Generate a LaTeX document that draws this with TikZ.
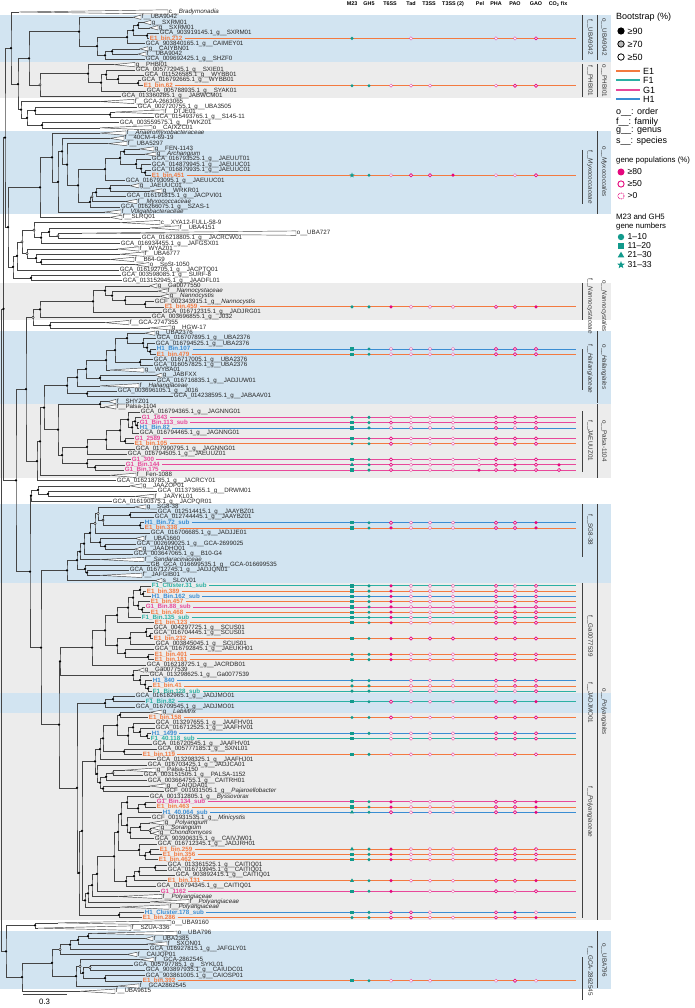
\documentclass[tikz,border=0pt]{standalone}
\usepackage{fontspec}
\setmainfont{Liberation Sans}
\usetikzlibrary{calc,shapes.geometric}
\pgfdeclarelayer{back}\pgfdeclarelayer{bg}
\pgfsetlayers{back,bg,main}
\definecolor{cE}{HTML}{F37A40}
\definecolor{cF}{HTML}{2BB0A4}
\definecolor{cG}{HTML}{E8489A}
\definecolor{cH}{HTML}{3A8DD3}
\definecolor{tealm}{HTML}{129A8C}
\definecolor{pinkm}{HTML}{E5087E}
\definecolor{bandB}{HTML}{D2E4F1}
\definecolor{bandG}{HTML}{ECECEC}
\definecolor{brc}{HTML}{454545}
\tikzset{
 lab/.style={anchor=west, inner sep=0.7pt, font=\fontsize{6.2}{6.2}\selectfont, text=black!85},
 labc/.style={lab, font=\fontsize{6.2}{6.2}\selectfont\bfseries},
 br/.style={draw=brc, line width=0.5pt},
 tri/.style={draw=brc, line width=0.45pt, fill=white},
 bsk/.style={circle, fill=black, inner sep=0, minimum size=2.5pt},
 bsw/.style={circle, draw=black, fill=white, line width=0.35pt, inner sep=0, minimum size=2.5pt},
 bsg/.style={circle, draw=black, fill=gray!60, line width=0.35pt, inner sep=0, minimum size=2.5pt},
 bsn/.style={inner sep=0, minimum size=0pt},
 pkf/.style={circle, fill=pinkm, inner sep=0, minimum size=3.5pt},
 pko/.style={circle, draw=pinkm, fill=white, line width=0.65pt, inner sep=0, minimum size=3.2pt},
 pkd/.style={circle, draw=pinkm!80, fill=white, line width=0.5pt, dash pattern=on 0.6pt off 0.5pt, inner sep=0, minimum size=3.2pt},
 pkn/.style={inner sep=0, minimum size=0pt},
 mkc/.style={circle, fill=tealm, inner sep=0, minimum size=3.4pt},
 mks/.style={rectangle, fill=tealm, inner sep=0, minimum size=3.4pt},
 mkt/.style={regular polygon, regular polygon sides=3, fill=tealm, inner sep=0, minimum size=4.8pt},
 mkr/.style={star, star points=5, star point ratio=2.4, fill=tealm, inner sep=0, minimum size=5.6pt},
 mkn/.style={inner sep=0, minimum size=0pt},
 hdr/.style={font=\fontsize{5.4}{6}\selectfont\bfseries, inner sep=0},
 fam/.style={rotate=-90, font=\fontsize{6.3}{7}\selectfont, text=black!80, inner sep=0},
 bar/.style={draw=black!75, line width=0.9pt},
 leg/.style={anchor=west, inner sep=0, font=\fontsize{9}{10}\selectfont},
 legs/.style={anchor=west, inner sep=0, font=\fontsize{7.8}{8}\selectfont},
 legm/.style={anchor=west, inner sep=0, font=\fontsize{8.6}{9}\selectfont},
}
\newcommand\LF[4]{\coordinate (#1) at (#3,{12+5.265*(#2-1)}); \node[lab] (#1-l) at (#1) {#4};}
\newcommand\LC[5]{\coordinate (#1) at (#3,{12+5.265*(#2-1)}); \node[labc, text=c#5] (#1-l) at (#1) {#4};}
\newcommand\TR[5]{\pgfmathsetmacro\yy{12+5.265*(#2-1)}\coordinate (#1) at (#3,\yy); \coordinate (#1-b) at (#4,\yy);
 \draw[tri] (#1) -- ([yshift=2.2pt]#1-b) -- ([yshift=-2.2pt]#1-b) -- cycle; \node[lab] (#1-l) at (#1-b) {#5};}
\newcommand\IN[5]{\path ($(#3)!0.5!(#4)$) coordinate (#1-m); \coordinate (#1-x) at (#2,0);
 \coordinate (#1) at (#1-x |- #1-m);
 \begin{pgfonlayer}{bg}\draw[br] (#3) -| (#1) |- (#4);\end{pgfonlayer}
 \node[bs#5] (#1-d) at (#1) {};}
\newcommand\ROW[5]{\begin{pgfonlayer}{bg}\draw[c#2, line width=0.8pt] ([xshift=1.5pt]#1-l.east) -- (#1 -| endx) coordinate (#1-e);\end{pgfonlayer}
 \node[mk#3] (#1-m23) at (#1 -| cM) {};
 \node[mk#4] (#1-gh5) at (#1 -| cGH) {};
 \foreach \v [count=\i] in {#5} {\node[pk\v] (#1-p\i) at (#1 -| cP\i) {};}}
\begin{document}
\begin{tikzpicture}[x=1pt,y=-1pt]
\useasboundingbox (0,0) rectangle (694,1008);
\begin{pgfonlayer}{back}
\fill[white] (0,0) rectangle (694,1008);
\fill[bandB] (0,15) rectangle (611,62);
\fill[bandG] (0,62) rectangle (611,98);
\fill[bandB] (0,131) rectangle (611,214);
\fill[bandG] (0,283) rectangle (611,320);
\fill[bandB] (0,331) rectangle (611,404);
\fill[bandG] (0,404) rectangle (611,478);
\fill[bandB] (0,504) rectangle (611,583);
\fill[bandG] (0,583) rectangle (611,920);
\fill[bandB] (0,693) rectangle (611,713);
\fill[bandB] (0,931) rectangle (611,989);
\end{pgfonlayer}
% columns
\coordinate (cM) at (352,0); \coordinate (cGH) at (369,0); \coordinate (endx) at (576,0);
\foreach \xx [count=\i] in {391,411,430,453,479,496,515,536,559} {\coordinate (cP\i) at (\xx,0);}
% header
\foreach \xx/\t [count=\i] in {352/M23,369/GH5,390/T6SS,411/Tad,429/T3SS,453/T3SS (2),480/Pel,496/PHA,515/PAO,536/GAO,558/CO\textsubscript{2} fix} {\node[hdr] (hd\i) at (\xx,4) {\t};}
% leaves
\TR{L1}{1}{19}{168}{c\_\_\textit{Bradymonadia}}
\TR{L2}{2}{133}{141}{f\_\_UBA9042}
\TR{L3}{3}{143}{151}{g\_\_SXRM01}
\TR{L4}{4}{150}{158}{g\_\_SXRM01}
\LF{L5}{5}{159}{GCA\_903919145.1\_g\_\_SXRM01}
\LC{L6}{6}{149}{E1\_bin.212}{E}
\LF{L7}{7}{145}{GCA\_903840165.1\_g\_\_CAIMEY01}
\TR{L8}{8}{140}{148}{g\_\_CAIYBN01}
\TR{L9}{9}{138}{146}{f\_\_UBA9042}
\LF{L10}{10}{145}{GCA\_009692425.1\_g\_\_SHZF0}
\TR{L11}{11}{114}{135}{g\_\_PHBI01}
\LF{L12}{12}{135}{GCA\_005772945.1\_g\_\_SXIE01}
\LF{L13}{13}{144}{GCA\_011526585.1\_g\_\_WYBB01}
\LF{L14}{14}{141}{GCA\_016792665.1\_g\_\_WYBB01}
\LC{L15}{15}{143}{E1\_bin.62}{E}
\LF{L16}{16}{146}{GCA\_005788935.1\_g\_\_SYAK01}
\LF{L17}{17}{121}{GCA\_013360285.1\_g\_\_JABWCM01}
\TR{L18}{18}{100}{134}{f\_\_GCA-2663065}
\LF{L19}{19}{137}{GCA\_002720755.1\_g\_\_UBA3505}
\TR{L20}{20}{115}{164}{f\_\_DTJE01}
\LF{L21}{21}{154}{GCA\_015493765.1\_g\_\_S145-11}
\LF{L22}{22}{119}{GCA\_003559575.1\_g\_\_PWKZ01}
\TR{L23}{23}{100}{152}{o\_\_CAIXZC01}
\TR{L24}{24}{100}{126}{f\_\_\textit{Anaeromyxobacteraceae}}
\TR{L25}{25}{110}{124}{f\_\_40CM-4-69-19}
\TR{L26}{26}{108}{127}{f\_\_UBA5297}
\TR{L27}{27}{140}{154}{g\_\_FEN-1143}
\TR{L28}{28}{145}{156}{g\_\_\textit{Archangium}}
\LF{L29}{29}{151}{GCA\_016793525.1\_g\_\_JAEUUT01}
\LF{L30}{30}{151}{GCA\_014879945.1\_g\_\_JAEUUC01}
\LF{L31}{31}{151}{GCA\_016879935.1\_g\_\_JAEUUC01}
\LC{L32}{32}{151}{E1\_bin.451}{E}
\LF{L33}{33}{125}{GCA\_016793095.1\_g\_\_JAEUUC01}
\TR{L34}{34}{130}{139}{g\_\_JAEUUC01}
\TR{L35}{35}{150}{162}{g\_\_WRKR01}
\LF{L36}{36}{126}{GCA\_016191815.1\_g\_\_JACPVI01}
\TR{L37}{37}{125}{137}{f\_\_\textit{Myxococcaceae}}
\LF{L38}{38}{120}{GCA\_016266075.1\_g\_\_SZAS-1}
\TR{L39}{39}{105}{121}{f\_\_\textit{Vulgatibacteraceae}}
\TR{L40}{40}{110}{122}{f\_\_SLRQ01}
\TR{L41}{41}{120}{160}{c\_\_XYA12-FULL-58-9}
\TR{L42}{42}{150}{179}{f\_\_UBA4151}
\TR{L43}{43}{82}{296}{o\_\_UBA727}
\LF{L44}{44}{141}{GCA\_016218805.1\_g\_\_JACRCW01}
\LF{L45}{45}{120}{GCA\_016934455.1\_g\_\_JAFGSX01}
\TR{L46}{46}{118}{139}{f\_\_WYAZ01}
\TR{L47}{47}{120}{144}{f\_\_UBA6777}
\TR{L48}{48}{110}{134}{f\_\_B64-G9}
\TR{L49}{49}{135}{149}{o\_\_SpSt-1050}
\LF{L50}{50}{119}{GCA\_016192705.1\_g\_\_JACPTQ01}
\LF{L51}{51}{121}{GCA\_003598085.1\_g\_\_SURF-8}
\LF{L52}{52}{122}{GCA\_013152945.1\_g\_\_JAADFL01}
\TR{L53}{53}{150}{157}{g\_\_Ga0077550}
\TR{L54}{54}{158}{167}{f\_\_\textit{Nannocystaceae}}
\TR{L55}{55}{160}{169}{g\_\_\textit{Nannocystis}}
\LF{L56}{56}{154}{GCF\_002343915.1\_g\_\_\textit{Nannocystis}}
\LC{L57}{57}{164}{E1\_bin.459}{E}
\LF{L58}{58}{162}{GCA\_016712315.1\_g\_\_JADJRG01}
\LF{L59}{59}{151}{GCA\_003696855.1\_g\_\_J032}
\TR{L60}{60}{105}{129}{f\_\_GCA-2747355}
\TR{L61}{61}{150}{171}{g\_\_HGW-17}
\TR{L62}{62}{145}{155}{g\_\_UBA2376}
\LF{L63}{63}{156}{GCA\_016707895.1\_g\_\_UBA2376}
\LF{L64}{64}{155}{GCA\_016794525.1\_g\_\_UBA2376}
\LC{L65}{65}{156}{H1\_Bin.107}{H}
\LC{L66}{66}{156}{E1\_bin.479}{E}
\LF{L67}{67}{153}{GCA\_016717005.1\_g\_\_UBA2376}
\LF{L68}{68}{153}{GCA\_016057825.1\_g\_\_UBA2376}
\TR{L69}{69}{110}{144}{g\_\_WYBA01}
\TR{L70}{70}{155}{162}{g\_\_JABFXX}
\LF{L71}{71}{156}{GCA\_016716835.1\_g\_\_JADJUW01}
\TR{L72}{72}{100}{139}{f\_\_\textit{Haliangiaceae}}
\LF{L73}{73}{117}{GCA\_003696105.1\_g\_\_J016}
\LF{L74}{74}{173}{GCA\_014238595.1\_g\_\_JABAAV01}
\TR{L75}{75}{108}{116}{f\_\_SHYZ01}
\TR{L76}{76}{105}{116}{f\_\_Palsa-1104}
\LF{L77}{77}{140}{GCA\_016794365.1\_g\_\_JAGNNG01}
\LC{L78}{78}{141}{G1\_1643}{G}
\LC{L79}{79}{139}{G1\_Bin.113\_sub}{G}
\LC{L80}{80}{139}{H1\_Bin.82}{H}
\LF{L81}{81}{139}{GCA\_016794465.1\_g\_\_JAGNNG01}
\LC{L82}{82}{134}{G1\_2589}{G}
\LC{L83}{83}{134}{E1\_bin.105}{E}
\LF{L84}{84}{135}{GCA\_017990795.1\_g\_\_JAGNNG01}
\LF{L85}{85}{127}{GCA\_016794505.1\_g\_\_JAEUUZ01}
\LC{L86}{86}{131}{G1\_300}{G}
\LC{L87}{87}{125}{G1\_Bin.144}{G}
\LC{L88}{88}{124}{G1\_Bin.175}{G}
\TR{L89}{89}{110}{136}{f\_\_Fen-1088}
\LF{L90}{90}{116}{GCA\_016218785.1\_g\_\_JACRCY01}
\TR{L91}{91}{130}{142}{g\_\_JAAZOP01}
\LF{L92}{92}{157}{GCA\_011373655.1\_g\_\_DRWM01}
\TR{L93}{93}{135}{154}{f\_\_JAAYKL01}
\LF{L94}{94}{112}{GCA\_016190375.1\_g\_\_JACPQR01}
\TR{L95}{95}{135}{146}{g\_\_SG8-38}
\LF{L96}{96}{157}{GCA\_012514415.1\_g\_\_JAAYBZ01}
\LF{L97}{97}{154}{GCA\_012744445.1\_g\_\_JAAYBZ01}
\LC{L98}{98}{144}{H1\_Bin.72\_sub}{H}
\LC{L99}{99}{144}{E1\_bin.338}{E}
\LF{L100}{100}{150}{GCA\_016706685.1\_g\_\_JADJJE01}
\TR{L101}{101}{135}{144}{f\_\_UBA1660}
\LF{L102}{102}{136}{GCA\_002699025.1\_g\_\_GCA-2699025}
\TR{L103}{103}{135}{142}{g\_\_JAADHO01}
\LF{L104}{104}{133}{GCA\_003647065.1\_g\_\_B10-G4}
\TR{L105}{105}{100}{144}{f\_\_\textit{Sandaracinaceae}}
\LF{L106}{106}{150}{GB\_GCA\_016699535.1\_g\_\_GCA-016699535}
\LF{L107}{107}{129}{GCA\_016712745.1\_g\_\_JADJQN01}
\TR{L108}{108}{100}{142}{f\_\_JAFGIB01}
\TR{L109}{109}{155}{162}{s\_\_SLOV01}
\LC{L110}{110}{151}{F1\_Cluster.31\_sub}{F}
\LC{L111}{111}{146}{E1\_bin.389}{E}
\LC{L112}{112}{151}{H1\_Bin.162\_sub}{H}
\LC{L113}{113}{150}{E1\_bin.457}{E}
\LC{L114}{114}{145}{G1\_Bin.88\_sub}{G}
\LC{L115}{115}{150}{E1\_bin.468}{E}
\LC{L116}{116}{141}{F1\_Bin.135\_sub}{F}
\LC{L117}{117}{154}{E1\_bin.123}{E}
\LF{L118}{118}{153}{GCA\_004297725.1\_g\_\_SCUS01}
\LF{L119}{119}{153}{GCA\_016704445.1\_g\_\_SCUS01}
\LC{L120}{120}{153}{E1\_bin.232}{E}
\LF{L121}{121}{155}{GCA\_003845045.1\_g\_\_SCUS01}
\LF{L122}{122}{154}{GCA\_016792845.1\_g\_\_JAEUKH01}
\LC{L123}{123}{154}{E1\_bin.401}{E}
\LC{L124}{124}{154}{E1\_bin.181}{E}
\LF{L125}{125}{146}{GCA\_016218725.1\_g\_\_JACRDB01}
\TR{L126}{126}{138}{144}{g\_\_Ga0077539}
\LF{L127}{127}{149}{GCA\_013298625.1\_g\_\_Ga0077539}
\LC{L128}{128}{152}{H1\_840}{H}
\LC{L129}{129}{152}{E1\_bin.41}{E}
\LC{L130}{130}{152}{F1\_Bin.128\_sub}{F}
\LF{L131}{131}{135}{GCA\_016182965.1\_g\_\_JADJMO01}
\LC{L132}{132}{145}{F1\_Bin.82}{F}
\LF{L133}{133}{135}{GCA\_016709545.1\_g\_\_JADJMO01}
\TR{L134}{134}{150}{162}{g\_\_\textit{Labilitrix}}
\LC{L135}{135}{148}{E1\_bin.158}{E}
\LF{L136}{136}{155}{GCA\_013297655.1\_g\_\_JAAFHV01}
\LF{L137}{137}{155}{GCA\_016712525.1\_g\_\_JAAFHV01}
\LC{L138}{138}{151}{H1\_1499}{H}
\LC{L139}{139}{150}{F1\_40.118\_sub}{F}
\LF{L140}{140}{152}{GCA\_016720545.1\_g\_\_JAAFHV01}
\LF{L141}{141}{157}{GCA\_005777185.1\_g\_\_SXNL01}
\LC{L142}{142}{142}{E1\_bin.119}{E}
\LF{L143}{143}{156}{GCA\_013298325.1\_g\_\_JAAFHJ01}
\LF{L144}{144}{147}{GCA\_016703425.1\_g\_\_JADJCA01}
\TR{L145}{145}{125}{156}{g\_\_Palsa-1150}
\LF{L146}{146}{143}{GCA\_003151505.1\_g\_\_PALSA-1152}
\LF{L147}{147}{147}{GCA\_003664755.1\_g\_\_CAITRH01}
\TR{L148}{148}{150}{166}{g\_\_CAIQDA01}
\LF{L149}{149}{164}{GCF\_001931505.1\_g\_\_\textit{Pajaroellobacter}}
\LF{L150}{150}{149}{GCA\_001312805.1\_g\_\_\textit{Byssovorax}}
\LC{L151}{151}{156}{G1\_Bin.134\_sub}{G}
\LC{L152}{152}{156}{E1\_bin.463}{E}
\LC{L153}{153}{162}{H1\_40.064\_sub}{H}
\LF{L154}{154}{151}{GCF\_001931535.1\_g\_\_\textit{Minicystis}}
\TR{L155}{155}{150}{164}{g\_\_\textit{Polyangium}}
\TR{L156}{156}{152}{160}{g\_\_\textit{Sorangium}}
\TR{L157}{157}{152}{159}{g\_\_\textit{Chondromyces}}
\LF{L158}{158}{154}{GCA\_903906315.1\_g\_\_CAIVJW01}
\LF{L159}{159}{157}{GCA\_016712345.1\_g\_\_JADJRH01}
\LC{L160}{160}{159}{E1\_bin.259}{E}
\LC{L161}{161}{162}{E1\_bin.356}{E}
\LC{L162}{162}{158}{E1\_bin.462}{E}
\LF{L163}{163}{167}{GCA\_013361525.1\_g\_\_CAITIQ01}
\LF{L164}{164}{167}{GCA\_016719945.1\_g\_\_CAITIQ01}
\LF{L165}{165}{175}{GCA\_903892415.1\_g\_\_CAITIQ01}
\LC{L166}{166}{167}{E1\_bin.131}{E}
\LF{L167}{167}{156}{GCA\_016794345.1\_g\_\_CAITIQ01}
\LC{L168}{168}{160}{G1\_1162}{G}
\TR{L169}{169}{118}{162}{f\_\_\textit{Polyangiaceae}}
\TR{L170}{170}{150}{189}{f\_\_\textit{Polyangiaceae}}
\TR{L171}{171}{120}{169}{f\_\_\textit{Polyangiaceae}}
\LC{L172}{172}{144}{H1\_Cluster.178\_sub}{H}
\LC{L173}{173}{142}{E1\_bin.286}{E}
\TR{L174}{174}{58}{171}{o\_\_UBA9160}
\TR{L175}{175}{38}{131}{f\_\_SZUA-336}
\TR{L176}{176}{92}{177}{o\_\_UBA796}
\TR{L177}{177}{145}{153}{f\_\_UBA2385}
\TR{L178}{178}{148}{167}{f\_\_SXON01}
\LF{L179}{179}{149}{GCA\_016927815.1\_g\_\_JAFGLY01}
\TR{L180}{180}{127}{137}{f\_\_CAIJQP01}
\TR{L181}{181}{140}{154}{f\_\_GCA-2862545}
\LF{L182}{182}{133}{GCA\_005797785.1\_g\_\_SYKL01}
\LF{L183}{183}{145}{GCA\_903897935.1\_g\_\_CAIUDC01}
\LF{L184}{184}{145}{GCA\_903861005.1\_g\_\_CAIOSP01}
\LC{L185}{185}{142}{E1\_bin.392}{E}
\TR{L186}{186}{118}{139}{f\_\_GCA2862545}
\TR{L187}{187}{80}{115}{f\_\_UBA9615}
% internal nodes: A
\IN{a4}{138}{L3}{L4}{k} \IN{a5}{147}{L5}{L6}{k} \IN{a3}{133}{a4}{a5}{k}
\IN{a2}{127}{a3}{L7}{k} \IN{a7}{112}{L8}{L9}{k} \IN{a6}{105}{a7}{L10}{k}
\IN{a1}{97}{a2}{a6}{k} \IN{a0}{79}{L2}{a1}{k}
% B
\IN{b6}{138}{L14}{L15}{k} \IN{b5}{118}{L13}{b6}{k} \IN{b4}{106}{L12}{b5}{k}
\IN{b3}{101}{b4}{L16}{k} \IN{b2}{88}{L11}{b3}{k} \IN{b1}{40}{b2}{L17}{w}
\IN{ab}{29}{a0}{b1}{k}
% C
\IN{c3}{110}{L20}{L21}{k} \IN{c2}{35}{L19}{c3}{k} \IN{c5}{42}{L22}{L23}{k}
\IN{c1}{27}{c2}{c5}{k} \IN{c0}{21}{L18}{c1}{k}
\IN{top1}{18}{ab}{c0}{k} \IN{B1}{11}{L1}{top1}{k}
% D
\IN{d9c}{145}{L31}{L32}{k} \IN{d9b}{141}{L30}{d9c}{k} \IN{d9}{136}{L29}{d9b}{k}
\IN{d8}{124}{L27}{L28}{k} \IN{d7}{120}{d8}{d9}{k} \IN{d6}{105}{d7}{L33}{k}
\IN{d13}{110}{L34}{L35}{k} \IN{d12}{96}{d13}{L36}{k} \IN{d11}{92}{d12}{L37}{w}
\IN{d10}{90}{d11}{L38}{k} \IN{d5}{78}{d6}{d10}{k} \IN{d4}{67}{L26}{d5}{k}
\IN{d3}{62}{L25}{d4}{k} \IN{d2}{58}{d3}{L39}{k} \IN{d1}{52}{L24}{d2}{k}
\IN{d0}{40}{d1}{L40}{k}
% E
\IN{e6}{58}{L43}{L44}{w} \IN{e5}{49}{L42}{e6}{k} \IN{e4}{41}{e5}{L45}{k}
\IN{e3}{34}{L41}{e4}{w} \IN{e8b}{41}{L48}{L49}{k} \IN{e8}{36}{L47}{e8b}{k}
\IN{e7}{27}{L46}{e8}{w} \IN{e2}{22}{e3}{e7}{w} \IN{e1}{17}{e2}{L50}{k}
\IN{e9}{31}{L51}{L52}{k} \IN{e0}{13}{e1}{e9}{k}
\IN{MY}{8}{d0}{e0}{k}
% F
\IN{f5}{145}{L56}{L57}{k} \IN{f4}{125}{L55}{f5}{k} \IN{f3}{112}{L54}{f4}{k}
\IN{f2}{105}{L53}{f3}{k} \IN{f1}{93}{f2}{L58}{k} \IN{f0}{40}{f1}{L59}{k}
\IN{g1}{50}{L60}{L61}{k} \IN{g0}{33}{f0}{g1}{w}
% H
\IN{h6d}{150}{L65}{L66}{k} \IN{h6c}{147}{L64}{h6d}{k} \IN{h6b}{143}{L63}{h6c}{k}
\IN{h6}{127}{L62}{h6b}{k} \IN{h7}{140}{L67}{L68}{k} \IN{h5}{115}{h6}{h7}{k}
\IN{h4}{106}{h5}{L69}{k} \IN{h8}{100}{L70}{L71}{k} \IN{h3}{86}{h4}{h8}{k}
\IN{h2}{77}{h3}{L72}{k} \IN{h9}{87}{L73}{L74}{k} \IN{h1}{67}{h2}{h9}{k}
% P
\IN{p3}{100}{L75}{L76}{k} \IN{p7c2}{137}{L79}{L80}{k} \IN{p7c}{135}{L78}{p7c2}{k}
\IN{p7b}{132}{p7c}{L81}{k} \IN{p7a}{128}{L77}{p7b}{k} \IN{p7d}{125}{L82}{L83}{k}
\IN{p7}{120}{p7a}{p7d}{k} \IN{p6}{106}{p7}{L84}{k} \IN{p5}{87}{p6}{L85}{k}
\IN{p9b}{95}{L87}{L88}{k} \IN{p9}{87}{L86}{p9b}{k} \IN{p4}{62}{p5}{p9}{k}
\IN{po}{58}{p3}{p4}{k} \IN{hal}{44}{h1}{po}{k} \IN{hp2}{40}{hal}{L89}{k}
\IN{hp3}{37}{hp2}{L90}{k} \IN{NH}{26}{g0}{hp3}{k}
% Q
\IN{q2}{48}{L92}{L93}{k} \IN{q1}{38}{L91}{q2}{k} \IN{q0}{31}{q1}{L94}{k}
% S
\IN{s7a}{130}{L96}{L97}{k} \IN{s7b}{140}{L98}{L99}{k} \IN{s7}{103}{s7a}{s7b}{g}
\IN{s6}{98}{L95}{s7}{w} \IN{s5}{95}{s6}{L100}{w} \IN{s8b}{105}{L102}{L103}{k}
\IN{s8}{100}{L101}{s8b}{k} \IN{s4}{90}{s5}{s8}{k} \IN{s3}{84}{s4}{L104}{k}
\IN{s2}{80}{s3}{L105}{k} \IN{s9b}{87}{L107}{L108}{k} \IN{s9}{85}{L106}{s9b}{k}
\IN{s1}{77}{s2}{s9}{k} \IN{s0}{67}{s1}{L109}{k}
% G
\IN{gF1b}{143}{L111}{L112}{k} \IN{gF1}{140}{L110}{gF1b}{k} \IN{gF2b}{142}{L114}{L115}{k}
\IN{gF2}{138}{L113}{gF2b}{k} \IN{gF}{133}{gF1}{gF2}{k} \IN{gE}{128}{gF}{L116}{k}
\IN{gD}{117}{gE}{L117}{k} \IN{gI2}{150}{L119}{L120}{k} \IN{gI1}{146}{L118}{gI2}{k}
\IN{gI}{130}{gI1}{L121}{k} \IN{gJ1}{148}{L123}{L124}{k} \IN{gJ}{125}{L122}{gJ1}{k}
\IN{gH}{117}{gI}{gJ}{k} \IN{gC}{105}{gD}{gH}{k} \IN{gB}{92}{gC}{L125}{k}
\IN{gN2}{148}{L129}{L130}{k} \IN{gN}{145}{L128}{gN2}{k} \IN{gM}{140}{L127}{gN}{k}
\IN{gL}{133}{L126}{gM}{k} \IN{gA}{60}{gB}{gL}{k}
% J
\IN{jB}{113}{L131}{L132}{k} \IN{jA}{105}{jB}{L133}{k}
% Y
\IN{y1b}{120}{L134}{L135}{k} \IN{y1d3}{147}{L138}{L139}{k} \IN{y1d2}{140}{L137}{y1d3}{k}
\IN{y1d}{133}{L136}{y1d2}{k} \IN{y1c}{128}{y1d}{L140}{k} \IN{y1a}{117}{y1b}{y1c}{k}
\IN{y1f}{124}{L141}{L142}{k} \IN{Y1}{103}{y1a}{y1f}{k} \IN{Y2}{100}{Y1}{L143}{k}
\IN{y3c}{113}{L145}{L146}{w} \IN{y3b}{106}{y3c}{L147}{k} \IN{y3d}{103}{L148}{L149}{k}
\IN{y3a}{100}{y3b}{y3d}{k} \IN{Y3}{97}{L144}{y3a}{k} \IN{Y4}{95}{Y2}{Y3}{k}
\IN{y5c}{145}{L151}{L152}{k} \IN{y5b}{138}{y5c}{L153}{k} \IN{y5a}{127}{L150}{y5b}{k}
\IN{y5h}{150}{L156}{L157}{w} \IN{y5g}{140}{L155}{y5h}{k} \IN{y5f}{130}{y5g}{L158}{k}
\IN{y5e}{127}{L154}{y5f}{k} \IN{y5d}{121}{y5a}{y5e}{k} \IN{y5k}{150}{L160}{L161}{k}
\IN{y5j}{145}{y5k}{L162}{k} \IN{y5i}{139}{L159}{y5j}{k} \IN{Y6}{118}{y5d}{y5i}{k}
\IN{y5o}{155}{L163}{L164}{k} \IN{y5n}{139}{y5o}{L165}{k} \IN{y5m}{134}{y5n}{L166}{k}
\IN{y5l}{126}{y5m}{L167}{k} \IN{Y7}{114}{Y6}{y5l}{k} \IN{Y8}{97}{Y7}{L168}{k}
\IN{Y9}{92}{Y8}{L169}{k} \IN{Y10}{88}{Y9}{L170}{k} \IN{Y11}{85}{Y10}{L171}{k}
\IN{Y12}{82}{Y4}{Y11}{k} \IN{Y13}{119}{L172}{L173}{k} \IN{Y14}{79}{Y12}{Y13}{k}
\IN{PA}{77}{jA}{Y14}{k} \IN{PB}{59}{gA}{PA}{k} \IN{PC}{41}{s0}{PB}{k}
\IN{PD}{30}{q0}{PC}{k} \IN{PO}{16}{NH}{PD}{k}
% Z
\IN{Z7}{88}{L176}{L177}{k} \IN{Z6}{78}{Z7}{L178}{k} \IN{Z5}{70}{Z6}{L179}{k}
\IN{Z4}{60}{Z5}{L180}{w} \IN{Z12}{90}{L182}{L183}{w} \IN{Z13}{105}{L184}{L185}{k}
\IN{Z11}{83}{Z12}{Z13}{k} \IN{Z10}{80}{L181}{Z11}{w} \IN{Z9}{76}{Z10}{L186}{k}
\IN{Z3}{52}{Z4}{Z9}{k} \IN{Z2}{22}{Z3}{L187}{k} \IN{Z1}{35}{L174}{L175}{k}
\IN{Z}{6}{Z1}{Z2}{k}
% top
\IN{TOPA}{5}{B1}{MY}{k} \IN{TOPB}{3.5}{TOPA}{PO}{k} \IN{R0}{1.5}{TOPB}{Z}{n}
% gene rows
\ROW{L6}{E}{c}{n}{n,d,n,n,n,d,d,o,n}
\ROW{L15}{E}{c}{c}{d,d,d,n,n,d,o,o,n}
\ROW{L32}{E}{r}{c}{d,o,o,f,n,d,d,o,n}
\ROW{L57}{E}{c}{c}{f,d,d,d,n,o,o,f,n}
\ROW{L65}{H}{s}{c}{d,d,d,d,n,o,o,o,n}
\ROW{L66}{E}{s}{c}{d,d,d,d,n,o,o,o,n}
\ROW{L78}{G}{c}{c}{d,d,d,d,n,o,o,o,n}
\ROW{L79}{G}{s}{c}{o,d,d,d,n,o,o,o,n}
\ROW{L80}{H}{s}{c}{d,d,d,d,n,o,d,o,n}
\ROW{L82}{G}{s}{c}{o,d,d,d,n,o,o,o,n}
\ROW{L83}{E}{c}{c}{o,d,d,d,n,o,o,o,n}
\ROW{L86}{G}{s}{c}{o,d,d,d,d,o,d,o,n}
\ROW{L87}{G}{t}{c}{o,d,d,d,d,o,f,o,f}
\ROW{L88}{G}{s}{c}{o,d,d,d,f,o,o,o,o}
\ROW{L98}{H}{s}{c}{o,d,d,d,n,o,o,f,n}
\ROW{L99}{E}{s}{c}{f,d,d,d,n,o,o,f,n}
\ROW{L110}{F}{s}{c}{f,d,d,d,n,o,d,o,n}
\ROW{L111}{E}{s}{c}{f,d,d,d,n,o,d,o,n}
\ROW{L112}{H}{s}{c}{f,d,d,d,n,o,o,o,n}
\ROW{L113}{E}{s}{c}{f,d,d,d,n,o,d,o,n}
\ROW{L114}{G}{s}{c}{f,d,d,d,n,d,f,o,n}
\ROW{L115}{E}{s}{c}{f,d,d,d,n,o,o,o,n}
\ROW{L116}{F}{s}{c}{f,d,d,n,n,o,o,o,n}
\ROW{L117}{E}{s}{c}{f,d,d,d,n,o,o,o,n}
\ROW{L120}{E}{s}{c}{f,o,o,o,n,o,o,o,n}
\ROW{L123}{E}{c}{c}{f,d,d,d,n,o,o,o,n}
\ROW{L124}{E}{s}{c}{f,d,d,d,n,o,o,o,n}
\ROW{L128}{H}{c}{c}{n,d,d,d,n,o,o,o,n}
\ROW{L129}{E}{c}{c}{n,d,d,d,n,d,o,o,n}
\ROW{L130}{F}{c}{c}{n,d,d,n,n,d,d,o,n}
\ROW{L132}{F}{s}{c}{o,d,d,d,n,o,o,f,n}
\ROW{L135}{E}{c}{c}{o,d,d,d,n,o,o,o,n}
\ROW{L138}{H}{s}{c}{d,d,d,d,n,o,o,o,n}
\ROW{L139}{F}{s}{n}{d,d,d,d,n,o,o,o,n}
\ROW{L142}{E}{s}{c}{d,d,d,d,n,d,o,o,n}
\ROW{L151}{G}{s}{c}{f,d,d,d,n,o,o,f,n}
\ROW{L152}{E}{s}{c}{f,d,d,d,n,o,o,f,n}
\ROW{L153}{H}{t}{c}{o,d,d,d,n,o,o,f,n}
\ROW{L160}{E}{t}{c}{f,d,d,d,n,o,o,o,n}
\ROW{L161}{E}{s}{c}{f,d,d,d,n,o,o,o,n}
\ROW{L162}{E}{s}{c}{f,d,d,d,n,o,o,o,n}
\ROW{L166}{E}{t}{c}{f,d,d,d,n,o,o,f,n}
\ROW{L168}{G}{s}{c}{f,n,d,d,n,o,d,o,n}
\ROW{L172}{H}{s}{c}{o,o,d,n,n,o,f,d,n}
\ROW{L173}{E}{c}{c}{o,o,d,d,n,o,o,f,n}
\ROW{L185}{E}{s}{c}{d,d,d,n,n,d,o,d,n}
% clade bars and labels
\foreach \ya/\yb/\yc/\t [count=\i] in {15/60/37/f\_\_UBA9042, 64/97/81/f\_\_PHBI01, 150/204/177/f\_\_\textit{Myxococcaceae}, 283/320/306/f\_\_\textit{Nannocystaceae}, 349/390/369/f\_\_\textit{Haliangiaceae}, 411/472/441/f\_\_JAEUUZ01, 504/557/530/f\_\_SG8-38, 583/693/636/f\_\_Ga0077539, 693/713/703/f\_\_JADJMO01, 713/918/812/f\_\_\textit{Polyangiaceae}, 957/1000/971/f\_\_GCA-2862545}
 {\coordinate (fa\i) at (582,\ya); \coordinate (fb\i) at (582,\yb); \draw[bar] (fa\i) -- (fb\i); \node[fam] (fl\i) at (590,\yc) {\t};}
\foreach \ya/\yb/\yc/\t [count=\i] in {15/60/37/o\_\_UBA9042, 64/97/81/o\_\_PHBI01, 131/214/172/o\_\_\textit{Myxococcales}, 331/403/367/o\_\_\textit{Haliangiales}, 404/478/441/o\_\_Palsa-1104, 504/920/712/o\_\_\textit{Polyangiales}, 931/988/960/o\_\_UBA796}
 {\coordinate (oa\i) at (597,\ya); \coordinate (ob\i) at (597,\yb); \draw[bar] (oa\i) -- (ob\i); \node[fam] (ol\i) at (604,\yc) {\t};}
\node[fam] (olN) at (604,306) {o\_\_\textit{Nannocystales}};
% legend
\node[leg] (lgT) at (616,17) {Bootstrap (\%)};
\node[circle, fill=black, inner sep=0, minimum size=7.2pt] (lb1) at (621,31) {};
\node[circle, draw=black, fill=gray!55, line width=0.8pt, inner sep=0, minimum size=6.4pt] (lb2) at (621,44) {};
\node[circle, draw=black, fill=white, line width=0.8pt, inner sep=0, minimum size=6.4pt] (lb3) at (621,57) {};
\node[leg] (lt1) at (627.5,31) {≥90}; \node[leg] (lt2) at (627.5,44) {≥70}; \node[leg] (lt3) at (627.5,57) {≥50};
\foreach \c/\t/\yy in {cE/E1/71, cF/F1/80, cG/G1/90, cH/H1/99}
 {\coordinate (ll\t a) at (616,\yy); \coordinate (ll\t b) at (640,\yy); \draw[\c, line width=1.9pt] (ll\t a) -- (ll\t b); \node[leg] (ll\t) at (643,\yy) {\t};}
\node[leg] (lo) at (616,112) {o\_\_: order};
\node[leg] (lf) at (616,122) {f\_\_: family};
\node[leg] (lgg) at (616,131) {g\_\_: genus};
\node[leg] (ls) at (616,141) {s\_\_: species};
\node[legs] (lgp) at (616,160) {gene populations (\%)};
\node[circle, fill=pinkm, inner sep=0, minimum size=7pt] (lp1) at (621,172) {};
\node[circle, draw=pinkm, line width=0.9pt, inner sep=0, minimum size=6.2pt] (lp2) at (621,184) {};
\node[circle, draw=pinkm, line width=0.7pt, dash pattern=on 1pt off 0.8pt, inner sep=0, minimum size=6.2pt] (lp3) at (621,196) {};
\node[legm] (lpt1) at (627.5,172) {≥80}; \node[legm] (lpt2) at (627.5,184) {≥50}; \node[legm] (lpt3) at (627.5,196) {>0};
\node[legs] (lm1) at (616,217) {M23 and GH5};
\node[legs] (lm2) at (616,226) {gene numbers};
\node[circle, fill=tealm, inner sep=0, minimum size=6.4pt] (lmk1) at (621,237) {};
\node[rectangle, fill=tealm, inner sep=0, minimum size=5.8pt] (lmk2) at (621,246) {};
\node[regular polygon, regular polygon sides=3, fill=tealm, inner sep=0, minimum size=7.6pt] (lmk3) at (621,255.5) {};
\node[star, star points=5, star point ratio=2.4, fill=tealm, inner sep=0, minimum size=8pt] (lmk4) at (621,265) {};
\node[legm] (lmt1) at (627.5,237) {1–10}; \node[legm] (lmt2) at (627.5,246) {11–20};
\node[legm] (lmt3) at (627.5,255) {21–30}; \node[legm] (lmt4) at (627.5,265) {31–33};
% scale bar
\coordinate (sb1) at (23,994); \coordinate (sb2) at (67,994);
\draw[brc, line width=0.5pt] (sb1) -- (sb2);
\node[legs] (sbl) at (39,1001.5) {0.3};
\end{tikzpicture}
\end{document}
